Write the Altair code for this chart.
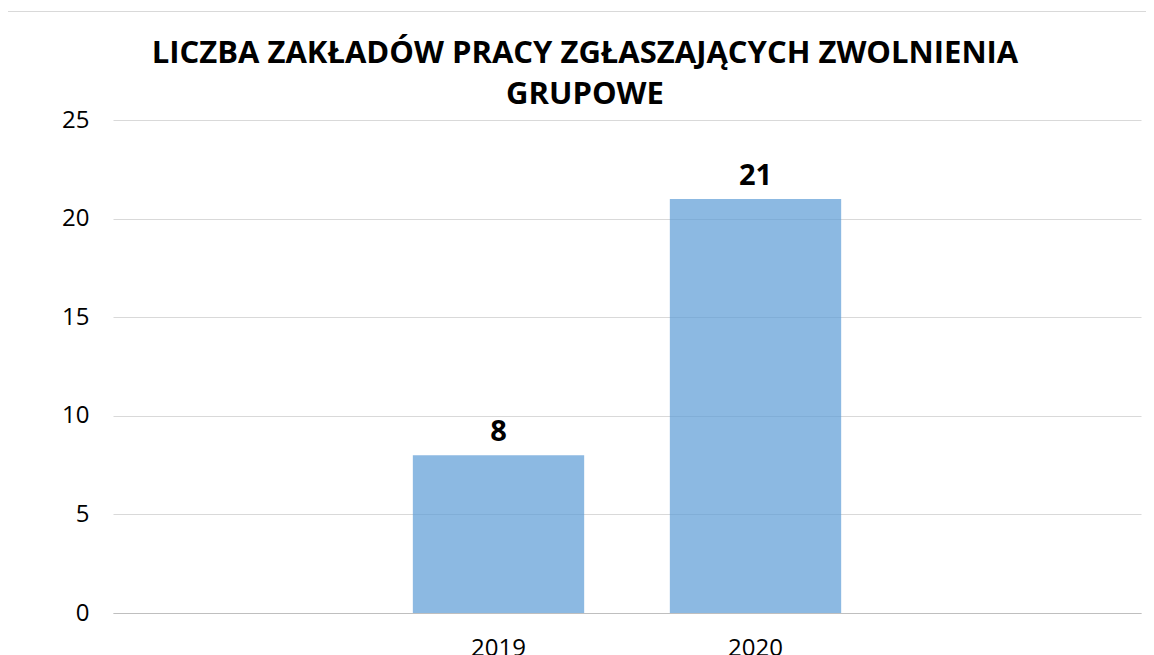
import altair as alt
import pandas as pd

years = ["2019", "2020"]
counts = [8, 21]
x_domain = ["_a", "2019", "2020", "_b"]
y_ticks = [0, 5, 10, 15, 20, 25]
title_lines = ["LICZBA ZAKŁADÓW PRACY ZGŁASZAJĄCYCH ZWOLNIENIA", "GRUPOWE"]

df = pd.DataFrame({"year": years, "count": counts})

W, H = 1028, 493
FONT = "Open Sans"

base = alt.Chart(df).encode(
    x=alt.X(
        "year:N",
        scale=alt.Scale(domain=x_domain, paddingInner=1 / 3, paddingOuter=1 / 6),
        axis=alt.Axis(
            title=None,
            labelAngle=0,
            labelFont=FONT,
            labelFontSize=24,
            labelColor="#000000",
            labelPadding=23,
            labelBaseline="top",
            ticks=False,
            domain=True,
            domainColor="#bfbfbf",
            domainWidth=1.2,
            grid=False,
            labelExpr="indexof(datum.label, '_') == 0 ? '' : datum.label",
        ),
    ),
    y=alt.Y(
        "count:Q",
        scale=alt.Scale(domain=[0, 25], nice=False),
        axis=alt.Axis(
            title=None,
            values=y_ticks,
            labelFont=FONT,
            labelFontSize=24,
            labelColor="#000000",
            labelPadding=24,
            ticks=False,
            tickSize=0,
            domain=False,
            grid=True,
            gridColor="#d9d9d9",
            gridWidth=1,
        ),
    ),
)

bars = base.mark_bar(color="#5B9BD5", opacity=0.7)
labels = base.mark_text(
    font=FONT, fontSize=29, fontWeight="bold", color="#000000",
    baseline="alphabetic", dy=-14
).encode(text="count:Q")

frame_left = alt.Chart(df).mark_rule(color="#d9d9d9", strokeWidth=1).encode(
    x=alt.value(-105.5), y=alt.value(-108.5), y2=alt.value(560)
)
frame_top = alt.Chart(df).mark_rule(color="#d9d9d9", strokeWidth=1).encode(
    x=alt.value(-105.5), x2=alt.value(1040), y=alt.value(-108.5)
)

chart = (
    alt.layer(frame_left, frame_top, bars, labels)
    .properties(
        width=W,
        height=H,
        autosize=alt.AutoSizeParams(type="none"),
        padding={"left": 105, "top": 112, "right": 5, "bottom": 44},
        title=alt.TitleParams(
            text=title_lines,
            font=FONT,
            fontSize=31,
            fontWeight="bold",
            color="#000000",
            anchor="middle",
            baseline="bottom",
            offset=-131,
            dx=-42,
            lineHeight=41,
        ),
        background="#ffffff",
    )
    .configure_view(stroke=None)
)

chart.save("out.html", embed_options={"renderer": "svg", "actions": False})
